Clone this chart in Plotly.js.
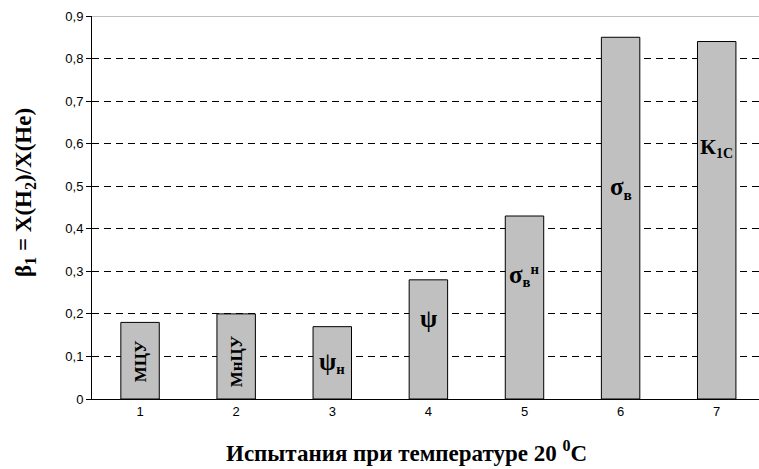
<!DOCTYPE html>
<html>
<head>
<meta charset="utf-8">
<script src="https://cdn.plot.ly/plotly-3.0.1.min.js"></script>
<style>html,body{margin:0;padding:0;background:#fff;}#chart{width:759px;height:469px;}</style>
</head>
<body>
<div id="chart"></div>
<script>
const categories = [1, 2, 3, 4, 5, 6, 7];
const values = [0.18, 0.20, 0.17, 0.28, 0.43, 0.85, 0.84];
const barLabels = [
  'МЦУ',
  'МнЦУ',
  '<span style="font-size:25px">ψ</span><sub>н</sub>',
  '<span style="font-size:25px">ψ</span>',
  '<span style="font-size:25px">σ</span><sub>в</sub><sup>н</sup>',
  '<span style="font-size:25px">σ</span><sub>в</sub>',
  '<span style="font-size:22px">К</span><sub>1С</sub>'
];
const labelSize = [17, 17, 21, 21, 21, 22, 20];
const labelY = [0.089, 0.089, 0.085, 0.19, 0.29, 0.495, 0.59];
const labelAngle = [-90, -90, 0, 0, 0, 0, 0];
const yTickVals = [0, 0.1, 0.2, 0.3, 0.4, 0.5, 0.6, 0.7, 0.8, 0.9];
const yTickText = ['0', '0,1', '0,2', '0,3', '0,4', '0,5', '0,6', '0,7', '0,8', '0,9'];
const xTitle = '<b>Испытания при температуре 20 <sup>0</sup>C</b>';
const yTitle = '<b>β<sub>1</sub> = X(H<sub>2</sub>)/X(He)</b>';

const serif = '"Liberation Serif", "Times New Roman", serif';
const sans = '"Liberation Sans", Arial, sans-serif';

const trace = {
  type: 'bar',
  x: categories,
  y: values,
  width: 0.4,
  marker: {color: '#c0c0c0', line: {color: '#000000', width: 1}},
  hoverinfo: 'skip'
};

const annotations = categories.map((c, i) => ({
  x: c, y: labelY[i], xref: 'x', yref: 'y',
  text: '<b>' + barLabels[i] + '</b>',
  showarrow: false,
  textangle: labelAngle[i],
  font: {family: serif, size: labelSize[i], color: '#000'}
}));

annotations.push({
  text: xTitle, xref: 'paper', yref: 'paper',
  x: (406 - 92) / 667, y: -53 / 383, xanchor: 'center', yanchor: 'middle',
  showarrow: false,
  font: {family: serif, size: 23, color: '#000'}
});
annotations.push({
  text: yTitle, xref: 'paper', yref: 'paper',
  x: -67 / 667, y: (399 - 193) / 383, xanchor: 'center', yanchor: 'middle',
  textangle: -90,
  showarrow: false,
  font: {family: serif, size: 23, color: '#000'}
});

const layout = {
  width: 759, height: 469,
  margin: {l: 92, r: 0, t: 16, b: 70},
  paper_bgcolor: '#fff', plot_bgcolor: '#fff',
  showlegend: false,
  xaxis: {
    range: [0.5, 7.44],
    tickvals: categories,
    ticktext: categories.map(String),
    ticks: '',
    showgrid: false,
    showline: true, linecolor: '#000', linewidth: 1,
    zeroline: false,
    tickfont: {family: sans, size: 13, color: '#000'}
  },
  yaxis: {
    range: [0, 0.9],
    tickvals: yTickVals,
    ticktext: yTickText,
    ticks: 'outside', ticklen: 5, tickcolor: '#000',
    showgrid: true, gridcolor: '#000', gridwidth: 1, griddash: '7px,5px',
    showline: true, linecolor: '#000', linewidth: 1,
    zeroline: false,
    tickfont: {family: sans, size: 13, color: '#000'}
  },
  shapes: [{
    type: 'line', xref: 'paper', yref: 'y', x0: 0, x1: 1, y0: 0.9, y1: 0.9,
    line: {color: '#808080', width: 1}
  }],
  annotations: annotations
};

Plotly.newPlot('chart', [trace], layout, {displayModeBar: false, staticPlot: true});
</script>
</body>
</html>
